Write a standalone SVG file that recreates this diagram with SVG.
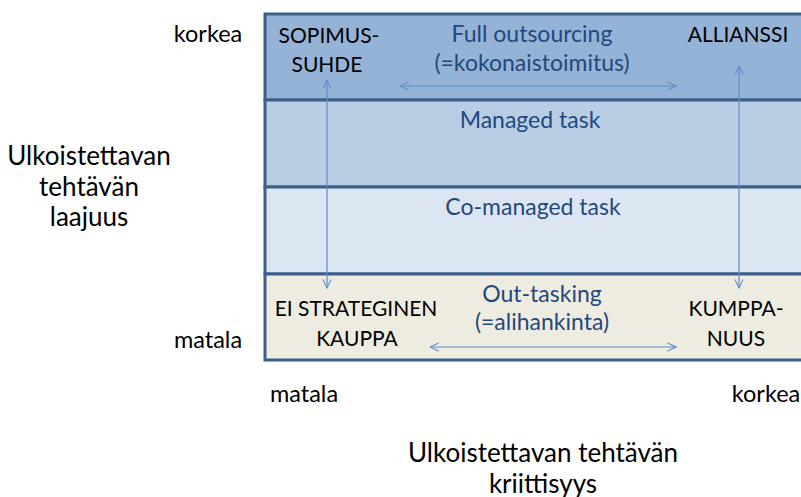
<svg xmlns="http://www.w3.org/2000/svg" width="801" height="497" viewBox="0 0 801 497">
  <defs>
    <marker id="tip" viewBox="0 0 10 10" refX="9.5" refY="5" markerWidth="10" markerHeight="10" markerUnits="userSpaceOnUse" orient="auto-start-reverse">
      <path d="M1,1 L9.5,5 L1,9" fill="none" stroke="#5F8DC8" stroke-width="1.1"/>
    </marker>
  </defs>
  <style>
    text { font-family: Lato, "Liberation Sans", sans-serif; }
    .axis { font-size: 23.5px; fill: #000; text-anchor: middle; }
    .title { font-size: 26px; fill: #000; text-anchor: middle; }
    .corner { font-size: 21px; fill: #000; text-anchor: middle; }
    .mode { font-size: 23px; fill: #1F497D; text-anchor: middle; }
    .band { stroke: #3A5F8B; stroke-width: 3; }
    .conn { stroke: #5F8DC8; stroke-width: 1.2; fill: none; marker-start: url(#tip); marker-end: url(#tip); }
  </style>
  <rect width="801" height="497" fill="#FFFFFF"/>

  <!-- matrix bands, top to bottom -->
  <g id="band-full">
    <rect class="band" x="265" y="14" width="545" height="86" fill="#95B3D7"/>
  </g>
  <g id="band-managed">
    <rect class="band" x="265" y="100" width="545" height="87" fill="#B9CDE5"/>
    <text class="mode" x="530" y="128">Managed task</text>
  </g>
  <g id="band-comanaged">
    <rect class="band" x="265" y="187" width="545" height="87" fill="#DCE6F2"/>
    <text class="mode" x="533" y="215">Co-managed task</text>
  </g>
  <g id="band-outtasking">
    <rect class="band" x="265" y="274" width="545" height="86" fill="#EEECE1"/>
  </g>

  <!-- connectors -->
  <g id="connectors">
    <line class="conn" x1="327" y1="80" x2="327" y2="288"/>
    <line class="conn" x1="739" y1="66" x2="739" y2="288"/>
    <line class="conn" x1="400" y1="86" x2="676" y2="86"/>
    <line class="conn" x1="430" y1="347" x2="676" y2="347"/>
  </g>

  <!-- corner and band labels -->
  <g id="sopimussuhde">
    <text class="corner" x="329" y="43">SOPIMUS-</text>
    <text class="corner" x="327" y="72">SUHDE</text>
  </g>
  <g id="full-outsourcing">
    <text class="mode" x="532" y="42">Full outsourcing</text>
    <text class="mode" x="532" y="71">(=kokonaistoimitus)</text>
  </g>
  <g id="allianssi">
    <text class="corner" x="738" y="42">ALLIANSSI</text>
  </g>
  <g id="ei-strateginen">
    <text class="corner" x="356" y="316">EI STRATEGINEN</text>
    <text class="corner" x="357" y="346">KAUPPA</text>
  </g>
  <g id="out-tasking">
    <text class="mode" x="542" y="302">Out-tasking</text>
    <text class="mode" x="542" y="330">(=alihankinta)</text>
  </g>
  <g id="kumppanuus">
    <text class="corner" x="736" y="316">KUMPPA-</text>
    <text class="corner" x="736" y="346">NUUS</text>
  </g>

  <!-- vertical axis -->
  <g id="y-axis">
    <text class="axis" x="208" y="42">korkea</text>
    <text class="axis" x="208" y="348">matala</text>
    <text class="title" x="89" y="165">Ulkoistettavan</text>
    <text class="title" x="89" y="196">tehtävän</text>
    <text class="title" x="89" y="226">laajuus</text>
  </g>

  <!-- horizontal axis -->
  <g id="x-axis">
    <text class="axis" x="304" y="402">matala</text>
    <text class="axis" x="766" y="402">korkea</text>
    <text class="title" x="543" y="462">Ulkoistettavan tehtävän</text>
    <text class="title" x="543" y="493">kriittisyys</text>
  </g>
</svg>
